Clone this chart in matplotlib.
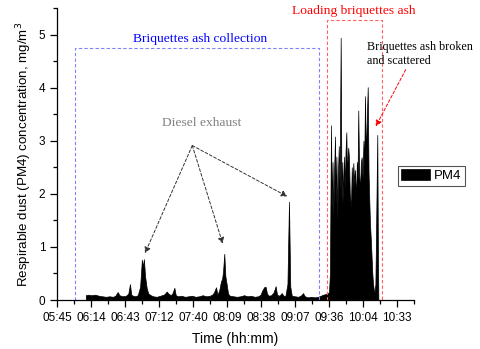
import numpy as np
import matplotlib
matplotlib.use("Agg")
import matplotlib.pyplot as plt
from matplotlib.patches import Rectangle
from matplotlib.ticker import MultipleLocator, FixedLocator

# time in minutes after midnight, PM4 concentration in mg/m3
t_min = [370.0, 372, 375, 378, 381, 384, 387, 390, 393, 395, 397, 398.5, 401, 404, 406,
         407.4, 408.5, 410, 412, 414, 416, 417.5, 418.3, 419.2, 420.2, 421.6, 423, 425,
         427, 430, 433, 436, 437.5, 438.5, 440, 442, 443.5, 445, 446.2, 448, 451, 454,
         457, 460, 463, 466, 469, 472, 475, 477, 478.5, 480.3, 481.5, 483, 484.5, 485.5,
         486.3, 487.3, 488.2, 489.3, 490.5, 492, 495, 498, 501, 504, 507, 510, 513, 516,
         518, 519.5, 521, 522.3, 523.5, 525, 527, 529, 530.8, 532, 534, 536, 537.5, 539,
         540.8, 542.1, 543.2, 544.5, 547, 550, 552.5, 554, 555.5, 558, 561, 564, 566.7,
         569, 571, 573, 574.5, 576, 576.8, 577.7, 578.3, 579, 579.6, 580.3, 581.1, 581.7,
         582.3, 583.0, 583.6, 584.3, 585.0, 585.9, 586.6, 587.3, 588.1, 588.7, 589.4,
         590.0, 590.7, 591.3, 591.8, 592.3, 592.9, 593.6, 594.6, 595.3, 595.9, 596.6,
         597.3, 598.0, 598.9, 599.6, 600.2, 600.8, 601.5, 602.3, 603.0, 603.7, 604.4,
         605.2, 605.8, 606.5, 607.2, 607.8, 608.8, 609.5, 610.1, 610.7, 611.4, 612.0,
         612.7, 613.3, 614.0, 614.6, 615.3, 616.0, 616.9, 617.4, 617.8]
pm4 = [0.09, 0.10, 0.09, 0.10, 0.08, 0.07, 0.06, 0.07, 0.06, 0.08, 0.15, 0.09, 0.07, 0.08, 0.12,
       0.30, 0.10, 0.08, 0.07, 0.09, 0.25, 0.76, 0.62, 0.77, 0.45, 0.22, 0.12, 0.09,
       0.07, 0.06, 0.08, 0.10, 0.13, 0.16, 0.12, 0.09, 0.13, 0.23, 0.09, 0.07, 0.08, 0.06,
       0.07, 0.08, 0.06, 0.07, 0.09, 0.07, 0.08, 0.10, 0.14, 0.24, 0.10, 0.18, 0.35, 0.40,
       0.55, 0.87, 0.45, 0.30, 0.12, 0.08, 0.07, 0.06, 0.07, 0.09, 0.07, 0.08, 0.06, 0.07,
       0.10, 0.18, 0.24, 0.25, 0.12, 0.08, 0.09, 0.14, 0.26, 0.10, 0.08, 0.13, 0.08, 0.07,
       0.30, 1.85, 0.25, 0.08, 0.07, 0.06, 0.09, 0.13, 0.07, 0.05, 0.06, 0.05, 0.06,
       0.08, 0.10, 0.11, 0.13, 0.14, 0.50, 3.29, 1.70, 2.60, 1.55, 2.40, 3.08, 1.80,
       2.70, 1.50, 2.40, 2.90, 2.10, 4.94, 1.80, 2.60, 1.85, 2.70, 2.10,
       2.80, 3.16, 2.20, 2.70, 2.87, 2.68, 2.00, 1.75, 2.50, 2.10, 2.58,
       2.20, 2.45, 1.90, 2.60, 2.30, 3.57, 2.40, 2.05, 2.60, 2.69, 2.30,
       3.00, 2.50, 3.84, 2.70, 3.20, 4.01, 2.40, 1.90, 1.45, 1.15, 0.85,
       0.50, 0.30, 0.19, 0.15, 0.30, 1.50, 3.11, 1.00, 0.05]

tick_min = [345.6, 374.4, 403.2, 432.0, 460.8, 489.6, 518.4, 547.2, 576.0, 604.8, 633.6]
tick_labels = ["05:45", "06:14", "06:43", "07:12", "07:40", "08:09", "08:38",
               "09:07", "09:36", "10:04", "10:33"]

sans = "Liberation Sans"
serif = "Liberation Serif"
plt.rcParams["font.family"] = sans

fig = plt.figure(figsize=(4.81, 3.49), dpi=100)
ax = fig.add_axes([0.1185, 0.1404, 0.7422, 0.8366])

ax.fill_between(t_min, pm4, 0, color="black", lw=0.5, label="PM4")

ax.set_xlim(345.6, 648.0)
ax.set_ylim(0, 5.5)
ax.xaxis.set_major_locator(FixedLocator(tick_min))
ax.set_xticklabels(tick_labels)
ax.xaxis.set_minor_locator(MultipleLocator(14.4))
ax.yaxis.set_major_locator(MultipleLocator(1))
ax.yaxis.set_minor_locator(MultipleLocator(0.5))
ax.tick_params(which="major", direction="out", length=5, width=0.9, labelsize=8.5)
ax.tick_params(which="minor", direction="out", length=3, width=0.9)
for s in ["top", "right"]:
    ax.spines[s].set_visible(False)
for s in ["left", "bottom"]:
    ax.spines[s].set_linewidth(0.9)

ax.set_xlabel("Time (hh:mm)", fontsize=10, labelpad=6)
ax.set_ylabel("Respirable dust (PM4) concentration, mg/m$^3$", fontsize=9.6, labelpad=3)

# dashed boxes marking the two phases
ax.add_patch(Rectangle((360.8, 0), 567.5 - 360.8, 4.74, fill=False,
                       edgecolor="#8080ff", lw=0.8, ls=(0, (3, 2)), clip_on=False))
ax.add_patch(Rectangle((574.1, 0), 620.6 - 574.1, 5.28, fill=False,
                       edgecolor="#ff6060", lw=0.8, ls=(0, (3, 2)), clip_on=False))

ax.text(466.7, 4.92, "Briquettes ash collection", color="blue", family=serif,
        fontsize=9.7, ha="center", va="center")
ax.text(597.2, 5.45, "Loading briquettes ash", color="red", family=serif,
        fontsize=9.7, ha="center", va="center")
ax.text(468.0, 3.34, "Diesel exhaust", color="gray", family=serif,
        fontsize=9.7, ha="center", va="center")
ax.text(607.9, 4.63, "Briquettes ash broken\nand scattered", color="black",
        family=serif, fontsize=8.7, ha="left", va="center", linespacing=1.25)

arrow = dict(arrowstyle="-|>", color="#333333", lw=0.7, ls=(0, (3, 2)),
             mutation_scale=9, shrinkA=0, shrinkB=0)
for tip in [(420.1, 0.88), (486.0, 1.06), (540.7, 1.95)]:
    ax.annotate("", xy=tip, xytext=(460.2, 2.91), arrowprops=arrow)
ax.annotate("", xy=(615.6, 3.27), xytext=(641.0, 4.34),
            arrowprops=dict(arrowstyle="-|>", color="red", lw=0.7, ls=(0, (3, 2)),
                            mutation_scale=9, shrinkA=0, shrinkB=0),
            annotation_clip=False)

leg = ax.legend(loc="upper left", bbox_to_anchor=(398 / 481, 1 - 166 / 349),
                bbox_transform=fig.transFigure, borderaxespad=0, fontsize=9.5,
                fancybox=False, edgecolor="#555555", framealpha=1, borderpad=0.25,
                handlelength=2.2, handleheight=0.9, handletextpad=0.3)
leg.get_frame().set_linewidth(0.8)

fig.savefig("out.png", dpi=100)
